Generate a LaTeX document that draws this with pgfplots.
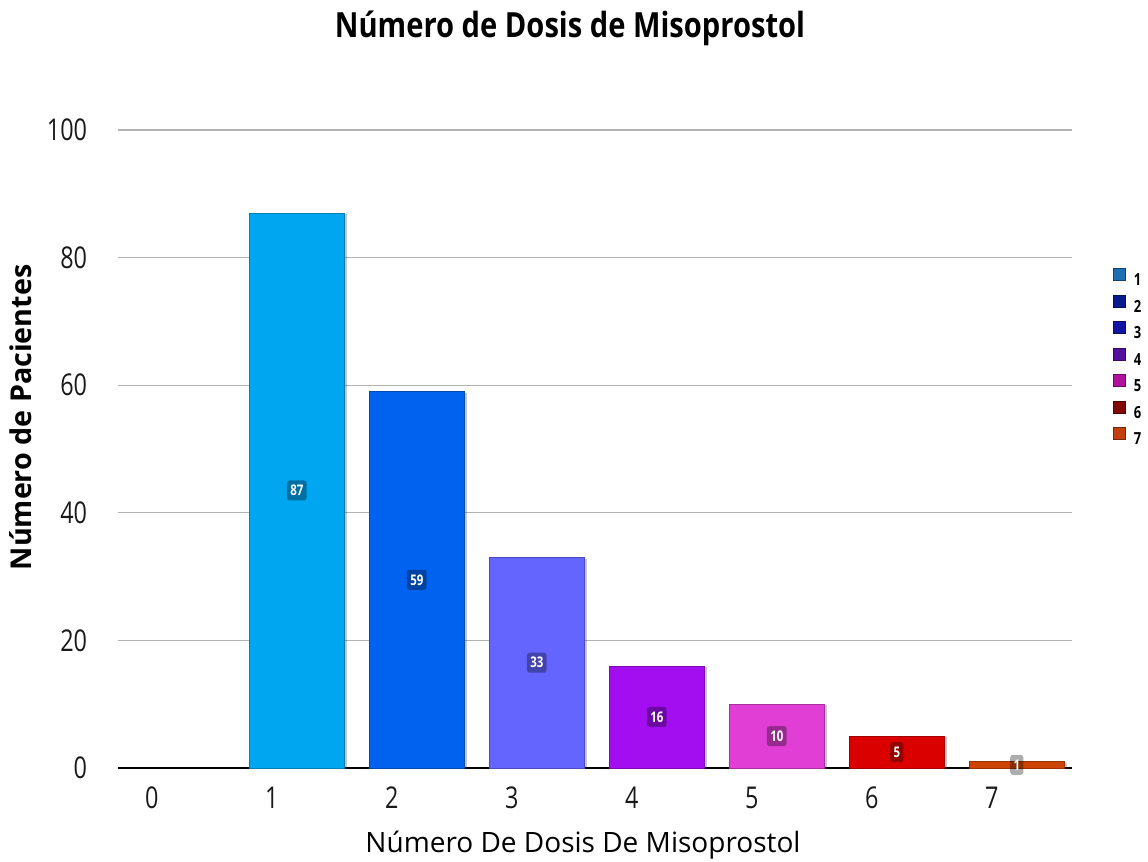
\documentclass[border=0pt]{standalone}
\usepackage{fontspec}
\setmainfont{Open Sans}
\newfontfamily\titlefont[FakeStretch=0.84]{Open Sans}
\newfontfamily\tickfont[FakeStretch=0.78]{Open Sans}
\usepackage{pgfplots}
\usepackage{pgfplotstable}
\pgfplotsset{compat=1.18}

% Patients by number of misoprostol doses
\pgfplotstableread{
dosis pacientes
0 0
1 87
2 59
3 33
4 16
5 10
6 5
7 1
}\dosistable

% bar fills
\definecolor{b1}{HTML}{00A6EF}
\definecolor{b2}{HTML}{0062EE}
\definecolor{b3}{HTML}{6464FE}
\definecolor{b4}{HTML}{A20EF0}
\definecolor{b5}{HTML}{E03ED4}
\definecolor{b6}{HTML}{DA0000}
\definecolor{b7}{HTML}{CC4400}
% legend swatches
\definecolor{l1}{HTML}{1E6EB4}
\definecolor{l2}{HTML}{0A1A8C}
\definecolor{l3}{HTML}{1414A4}
\definecolor{l4}{HTML}{52129E}
\definecolor{l5}{HTML}{B0129E}
\definecolor{l6}{HTML}{820808}
\definecolor{l7}{HTML}{C2400E}

\pgfplotsset{
  dosebar/.style={ybar, bar width=0.79, bar shift=0pt,
    fill=#1, draw=#1!75!black, line width=0.5pt,
    preaction={fill=black, fill opacity=0.22, draw=none,
      transform canvas={xshift=2pt, yshift=-0.8pt}}},
}

\begin{document}
\begin{tikzpicture}
\path[use as bounding box] (-88.5pt,-69.75pt) rectangle (772.5pt,576pt);
\begin{axis}[
  at={(0pt,0pt)}, anchor=south west,
  scale only axis, width=715.5pt, height=478.5pt,
  xmin=-0.49, xmax=7.46, ymin=0, ymax=100,
  /pgf/number format/assume math mode=true,
  axis line style={draw=none},
  major tick length=0pt,
  xtick={0,...,7},
  ytick={20,40,60,80,100},
  extra y ticks={0},
  extra y tick style={grid style={black, line width=1.6pt}},
  ymajorgrids,
  grid style={gray!60, line width=1pt},
  tick label style={font=\tickfont\fontsize{22.5}{24}\selectfont, text=black!90},
  yticklabel style={anchor=east, inner sep=0pt, xshift=-23pt},
  xticklabel style={anchor=north, inner sep=0pt, yshift=-14pt, xshift=-18.75pt},
  legend style={draw=none, fill=none, inner sep=0pt,
    at={(axis description cs:1.043,0.784)}, anchor=north west,
    font=\tickfont\bfseries\fontsize{12.5}{13}\selectfont,
    nodes={inner sep=0pt, text height=9pt, text depth=0pt},
    row sep=6.7pt, column sep=0pt},
  legend cell align=left,
  /tikz/every odd column/.append style={column sep=6pt},
  legend image code/.code={
    \fill[#1] (0pt,-0.5pt) rectangle (9pt,8.5pt);
    \draw[#1, line width=0.4pt, draw opacity=0.6, fill=none] (0pt,-0.5pt) rectangle (9pt,8.5pt);},
  clip=false,
]
\addlegendimage{fill=l1, draw=l1!60!black}\addlegendentry{1}
\addlegendimage{fill=l2, draw=l2!60!black}\addlegendentry{2}
\addlegendimage{fill=l3, draw=l3!60!black}\addlegendentry{3}
\addlegendimage{fill=l4, draw=l4!60!black}\addlegendentry{4}
\addlegendimage{fill=l5, draw=l5!60!black}\addlegendentry{5}
\addlegendimage{fill=l6, draw=l6!60!black}\addlegendentry{6}
\addlegendimage{fill=l7, draw=l7!60!black}\addlegendentry{7}

\addplot[dosebar=b1, forget plot] table[x=dosis, y=pacientes, restrict x to domain=1:1] {\dosistable};
\addplot[dosebar=b2, forget plot] table[x=dosis, y=pacientes, restrict x to domain=2:2] {\dosistable};
\addplot[dosebar=b3, forget plot] table[x=dosis, y=pacientes, restrict x to domain=3:3] {\dosistable};
\addplot[dosebar=b4, forget plot] table[x=dosis, y=pacientes, restrict x to domain=4:4] {\dosistable};
\addplot[dosebar=b5, forget plot] table[x=dosis, y=pacientes, restrict x to domain=5:5] {\dosistable};
\addplot[dosebar=b6, forget plot] table[x=dosis, y=pacientes, restrict x to domain=6:6] {\dosistable};
\addplot[dosebar=b7, forget plot] table[x=dosis, y=pacientes, restrict x to domain=7:7] {\dosistable};

% value badges at half height of each bar
\addplot[draw=none, mark=none, forget plot,
  nodes near coords, point meta=explicit,
  every node near coord/.style={anchor=center, fill=black, fill opacity=0.32,
    text opacity=1, text=white, rounded corners=2pt, inner sep=2.5pt,
    minimum height=15pt,
    font=\tickfont\bfseries\fontsize{11}{12}\selectfont}]
  table[x=dosis, y expr=\thisrow{pacientes}/2, meta=pacientes,
        restrict x to domain=1:7] {\dosistable};
\end{axis}

\node[anchor=base, font=\titlefont\bfseries\fontsize{26}{28}\selectfont] at (339pt,547.5pt)
  {Número de Dosis de Misoprostol};
\node[anchor=base, font=\fontsize{21}{23}\selectfont] at (348.75pt,-63pt)
  {Número De Dosis De Misoprostol};
\node[anchor=base, rotate=90, font=\bfseries\fontsize{21.5}{23}\selectfont] at (-64.5pt,262.9pt)
  {Número de Pacientes};
\end{tikzpicture}
\end{document}
